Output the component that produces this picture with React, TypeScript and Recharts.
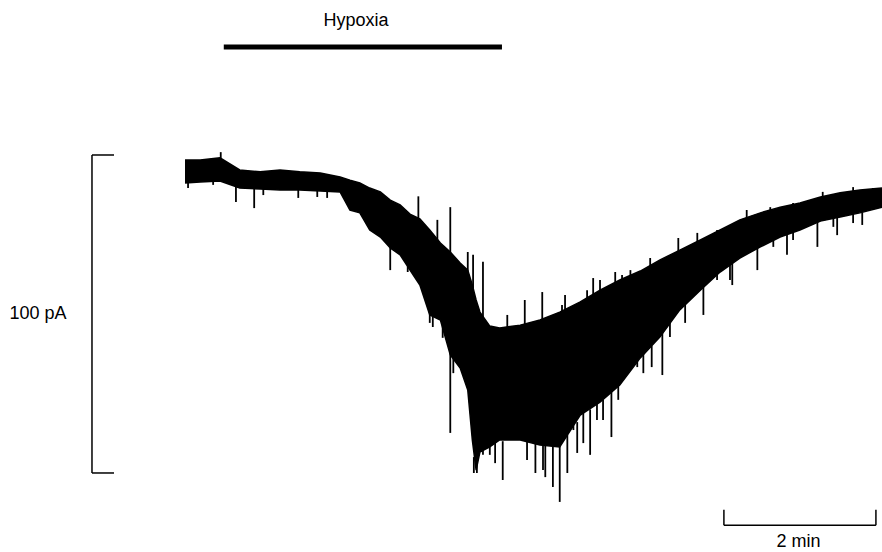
import { ComposedChart, Area, XAxis, YAxis, ReferenceLine, ReferenceDot } from "recharts";

// time (min from start of trace) and envelope of the noisy current band (pA, 0 = top of scale bar)
const times = [0, 0.2, 0.46, 0.72, 0.99, 1.25, 1.51, 1.78, 2.04, 2.17, 2.3, 2.43, 2.57, 2.7, 2.83, 2.96, 3.09, 3.22, 3.36, 3.49, 3.62, 3.72, 3.78, 3.83, 3.88, 4.01, 4.14, 4.41, 4.67, 4.93, 5.2, 5.46, 5.72, 5.99, 6.25, 6.51, 6.78, 7.04, 7.3, 7.57, 7.83, 8.09, 8.36, 8.62, 8.88, 9.17];
const upper = [-1.6, -1.6, -0.9, -4.7, -5.3, -4.7, -5.3, -5.7, -6.9, -7.9, -8.8, -10.4, -11.6, -14.2, -15.7, -18.6, -20.1, -23.6, -27.7, -30.5, -34.0, -36.2, -40.9, -45.6, -49.4, -53.8, -54.4, -53.5, -51.9, -49.4, -46.2, -42.5, -39.3, -36.5, -33.0, -29.9, -26.7, -23.6, -20.4, -18.2, -16.4, -15.1, -13.2, -11.9, -11.0, -10.4];
const lower = [-8.8, -8.5, -8.2, -10.4, -10.7, -11.0, -11.0, -11.3, -11.6, -17.3, -18.2, -23.6, -25.8, -29.2, -31.4, -36.2, -40.9, -50.3, -51.9, -62.9, -67.0, -73.9, -89.6, -99.1, -93.4, -91.8, -89.6, -89.6, -91.2, -91.8, -81.8, -77.7, -72.3, -63.8, -57.2, -48.7, -42.5, -36.8, -32.4, -28.9, -25.8, -23.6, -20.8, -19.5, -18.2, -16.4];

// outward excursions above the band: time, start (band edge), tip
const upTimes = [0.47, 3.07, 3.32, 3.49, 3.72, 3.79, 3.92, 4.24, 4.47, 4.7, 4.96, 5.0, 5.29, 5.37, 5.46, 5.66, 5.75, 5.86, 6.12, 6.49, 6.74, 7.0, 7.39, 7.7, 8.0, 8.39, 8.79, 9.05];
const upFrom = [-1.5, -20, -27, -31, -37, -42, -51, -55, -54, -52, -50, -49, -45, -44, -43, -40, -39, -38, -35, -31, -28, -25, -20, -18, -16, -13.5, -11.5, -11];
const upTo = [0.9, -13, -20.4, -16.4, -30.5, -31.4, -33.6, -50.3, -45.6, -43.1, -47.2, -44.0, -42.5, -38.7, -39.3, -36.8, -37.7, -36.2, -32.4, -26.1, -24.5, -23.6, -17.3, -16.4, -15.1, -11.6, -10.1, -10.4];

// outward excursions below the band
const downTimes = [0.04, 0.37, 0.67, 0.91, 1.03, 1.49, 1.74, 1.87, 2.7, 2.93, 3.22, 3.26, 3.39, 3.49, 3.53, 3.8, 3.84, 3.92, 4.01, 4.08, 4.18, 4.5, 4.61, 4.71, 4.74, 4.84, 4.93, 5.03, 5.11, 5.16, 5.24, 5.33, 5.42, 5.5, 5.61, 5.7, 5.95, 6.03, 6.14, 6.28, 6.38, 6.58, 6.82, 7.0, 7.17, 7.2, 7.53, 7.74, 7.92, 8.0, 8.32, 8.53, 8.58, 8.79, 8.91];
const downFrom = [-8.5, -8, -10, -10.5, -10.5, -11, -11, -11.5, -29, -35, -49, -50, -53, -62, -63, -95, -96, -92, -91, -90, -90, -90, -90, -91, -91, -91, -91, -88, -85, -84, -80, -80, -78, -77, -74, -72, -64, -62, -60, -56, -52, -47, -41, -37, -33, -32, -28, -26, -25, -24, -21, -20, -19, -18.5, -18];
const downTo = [-10.4, -9.4, -14.8, -16.7, -12.6, -13.5, -13.2, -13.5, -36.2, -36.8, -52.8, -54.1, -57.5, -87.4, -68.6, -100, -100, -94.3, -94.3, -96.9, -102.2, -95.9, -100, -99.1, -101.3, -104.4, -109.1, -100, -86.5, -93.7, -90.6, -94.3, -83.3, -83.3, -88.7, -77, -66.7, -68.6, -66.7, -69.2, -57.2, -52.8, -50.3, -39.3, -39.3, -40.9, -36.2, -28.9, -31.4, -26.7, -28.9, -22.6, -25.2, -21.4, -22.0];

// stimulus period and scale bars
const hypoxiaStart = 0.51;
const hypoxiaEnd = 4.17;
const scaleCurrent = 100; // pA
const scaleTime = 2; // min

const data = times.map((t, i) => ({ t, band: [lower[i], upper[i]] }));
const spikes = [
  ...upTimes.map((t, i) => ({ t, from: upFrom[i], to: upTo[i] })),
  ...downTimes.map((t, i) => ({ t, from: downFrom[i], to: downTo[i] })),
];

const font = "'Liberation Sans', Arial, Helvetica, sans-serif";
const ink = "#000";

export default function App() {
  const barX = -1.224;
  const tickX = -0.934;
  const timeBarY = -116.4;
  const timeTickY = -111.6;
  const timeBarStart = 7.09;
  const hypoY = 34.0;
  const textStyle = { fill: ink, fontSize: 18, fontFamily: font };

  return (
    <div style={{ position: "absolute", left: 0, top: 0, width: 882, height: 552, background: "#fff" }}>
      <ComposedChart width={882} height={552} data={data} margin={{ top: 11.9, right: 0, bottom: 2.7, left: 2.6 }}>
        <XAxis type="number" dataKey="t" domain={[-2.4, 9.17]} hide allowDataOverflow />
        <YAxis type="number" domain={[-124, 45]} hide allowDataOverflow />

        {spikes.map((s, i) => (
          <ReferenceLine
            key={"s" + i}
            segment={[{ x: s.t, y: s.from }, { x: s.t, y: s.to }]}
            stroke={ink}
            strokeWidth={1.8}
            ifOverflow="visible"
          />
        ))}

        <Area
          type="linear"
          dataKey="band"
          stroke={ink}
          strokeWidth={1.5}
          fill={ink}
          fillOpacity={1}
          dot={false}
          activeDot={false}
          isAnimationActive={false}
        />

        {/* hypoxia bar */}
        <ReferenceLine segment={[{ x: hypoxiaStart, y: hypoY }, { x: hypoxiaEnd, y: hypoY }]} stroke={ink} strokeWidth={5} ifOverflow="visible" />
        <ReferenceDot x={2.25} y={42.5} r={0} fill="none" stroke="none" ifOverflow="visible"
          label={{ value: "Hypoxia", position: "center", ...textStyle }} />

        {/* current scale bar */}
        <ReferenceLine segment={[{ x: barX, y: 0 }, { x: barX, y: -scaleCurrent }]} stroke={ink} strokeWidth={1.5} ifOverflow="visible" />
        <ReferenceLine segment={[{ x: barX, y: 0 }, { x: tickX, y: 0 }]} stroke={ink} strokeWidth={1.5} ifOverflow="visible" />
        <ReferenceLine segment={[{ x: barX, y: -scaleCurrent }, { x: tickX, y: -scaleCurrent }]} stroke={ink} strokeWidth={1.5} ifOverflow="visible" />
        <ReferenceDot x={-1.934} y={-49.7} r={0} fill="none" stroke="none" ifOverflow="visible"
          label={{ value: "100 pA", position: "center", ...textStyle }} />

        {/* time scale bar */}
        <ReferenceLine segment={[{ x: timeBarStart, y: timeBarY }, { x: timeBarStart + scaleTime, y: timeBarY }]} stroke={ink} strokeWidth={1.5} ifOverflow="visible" />
        <ReferenceLine segment={[{ x: timeBarStart, y: timeBarY }, { x: timeBarStart, y: timeTickY }]} stroke={ink} strokeWidth={1.5} ifOverflow="visible" />
        <ReferenceLine segment={[{ x: timeBarStart + scaleTime, y: timeBarY }, { x: timeBarStart + scaleTime, y: timeTickY }]} stroke={ink} strokeWidth={1.5} ifOverflow="visible" />
        <ReferenceDot x={8.07} y={-121.2} r={0} fill="none" stroke="none" ifOverflow="visible"
          label={{ value: "2 min", position: "center", ...textStyle }} />
      </ComposedChart>
    </div>
  );
}
